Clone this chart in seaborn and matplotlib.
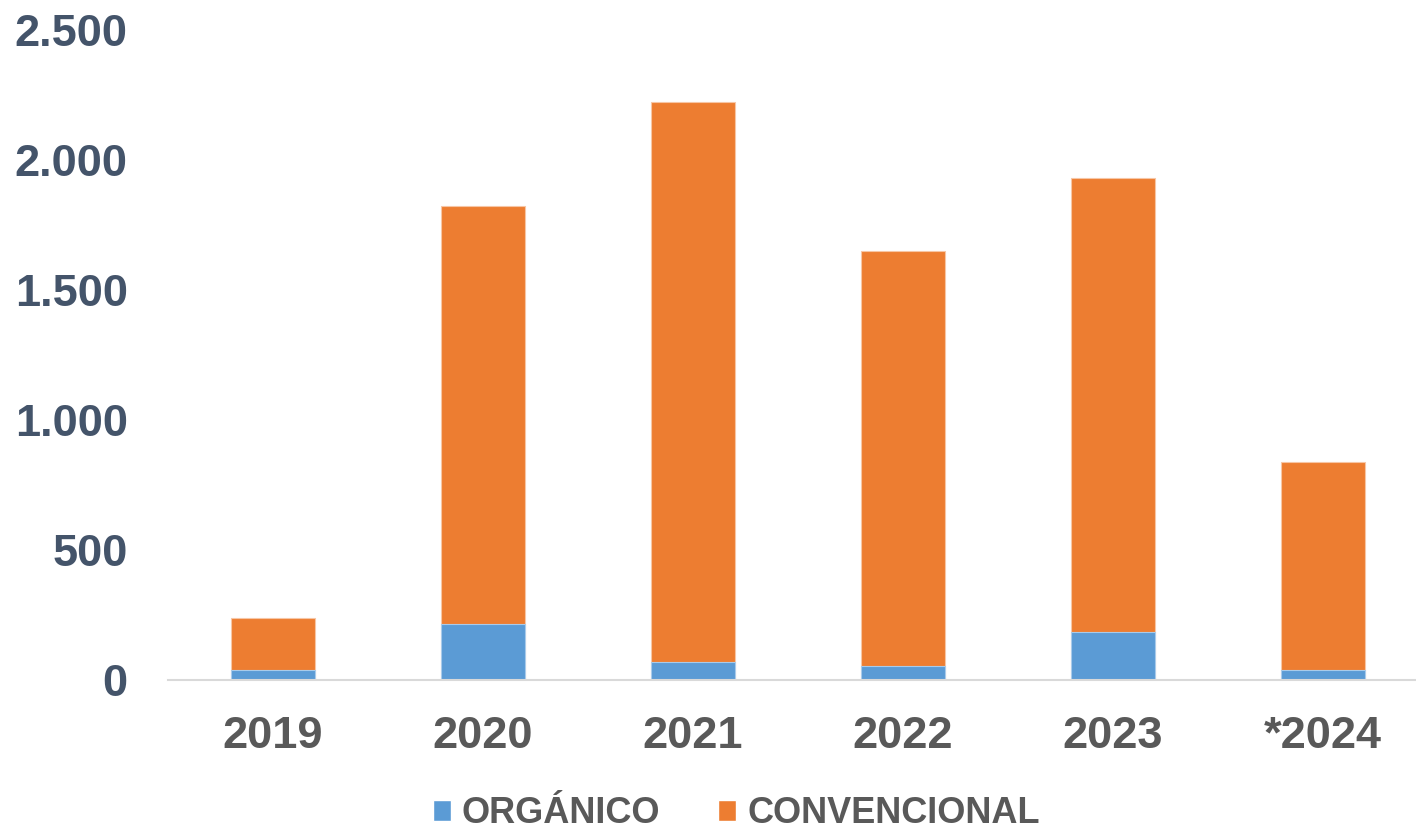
import matplotlib
matplotlib.use("Agg")
import matplotlib.pyplot as plt
import seaborn as sns
import pandas as pd
from matplotlib.patches import Patch

# Datos
anios = ["2019", "2020", "2021", "2022", "2023", "*2024"]
organico = [38, 215, 70, 55, 185, 40]
convencional = [199, 1609, 2153, 1594, 1745, 800]

AZUL = "#5B9BD5"
NARANJA = "#ED7D31"
GRIS_EJE = "#44546A"
GRIS_TXT = "#595959"

sns.set_theme(style="white")
plt.rcParams["font.family"] = ["Liberation Sans", "DejaVu Sans"]

df = pd.DataFrame({"Año": anios, "ORGÁNICO": organico, "CONVENCIONAL": convencional})
df["Total"] = df["ORGÁNICO"] + df["CONVENCIONAL"]

fig = plt.figure(figsize=(14.16, 8.34), dpi=100)
ax = fig.add_axes([168 / 1416, 154 / 834, 1260 / 1416, 650 / 834])

# Barras apiladas: total (naranja) y orgánico (azul) encima
sns.barplot(data=df, x="Año", y="Total", color=NARANJA, width=0.4, ax=ax,
            saturation=1, edgecolor="#F7C6A5", linewidth=0.8)
sns.barplot(data=df, x="Año", y="ORGÁNICO", color=AZUL, width=0.4, ax=ax,
            saturation=1, edgecolor="#A9CBEA", linewidth=0.8)

ax.set_ylim(0, 2500)
ax.set_yticks([0, 500, 1000, 1500, 2000, 2500])
ax.set_yticklabels([f"{v:,}".replace(",", ".") for v in [0, 500, 1000, 1500, 2000, 2500]])
ax.set_xlabel("")
ax.set_ylabel("")

for s in ["top", "right", "left"]:
    ax.spines[s].set_visible(False)
ax.spines["bottom"].set_color("#D9D9D9")
ax.spines["bottom"].set_linewidth(1.5)

ax.tick_params(axis="y", length=0, pad=29, labelsize=32.5, labelcolor=GRIS_EJE)
ax.tick_params(axis="x", length=0, pad=26, labelsize=32.5, labelcolor=GRIS_TXT)
for lbl in ax.get_yticklabels() + ax.get_xticklabels():
    lbl.set_fontweight("bold")

handles = [Patch(facecolor=AZUL, label="ORGÁNICO"),
           Patch(facecolor=NARANJA, label="CONVENCIONAL")]
leg = fig.legend(handles=handles, loc="center", bbox_to_anchor=(0.52, 0.024),
                 ncol=2, frameon=False, handlelength=0.5, handleheight=0.5,
                 handletextpad=0.3, columnspacing=1.6,
                 prop={"size": 26, "weight": "bold"})
for t in leg.get_texts():
    t.set_color(GRIS_TXT)

fig.savefig("out.png", dpi=100)
